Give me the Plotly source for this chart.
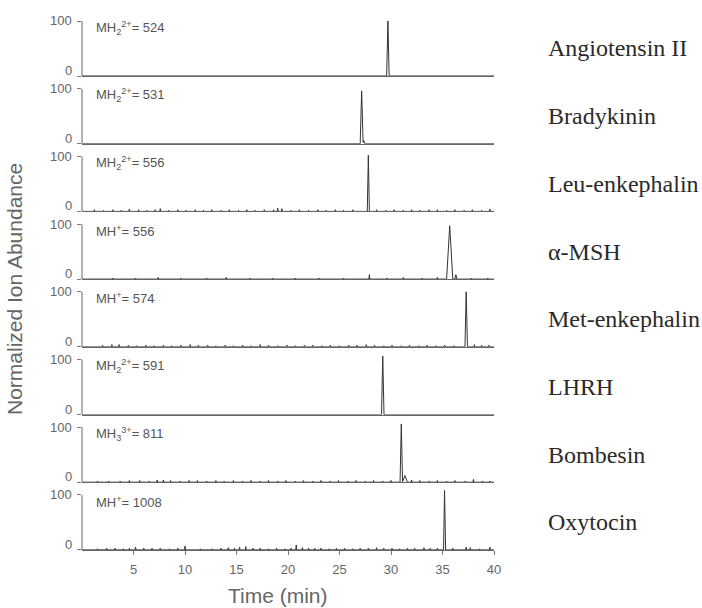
import plotly.graph_objects as go

# ---------------- data ----------------
peptides = ["Angiotensin II", "Bradykinin", "Leu-enkephalin", "α-MSH",
            "Met-enkephalin", "LHRH", "Bombesin", "Oxytocin"]
ion_labels = ["MH<sub>2</sub><sup>2+</sup>= 524",
              "MH<sub>2</sub><sup>2+</sup>= 531",
              "MH<sub>2</sub><sup>2+</sup>= 556",
              "MH<sup>+</sup>= 556",
              "MH<sup>+</sup>= 574",
              "MH<sub>2</sub><sup>2+</sup>= 591",
              "MH<sub>3</sub><sup>3+</sup>= 811",
              "MH<sup>+</sup>= 1008"]
x_tick_vals = [5, 10, 15, 20, 25, 30, 35, 40]
y_tick_vals = [0, 100]

# peaks: retention time (min), normalized height (%), half-width (min)
angio_t = [29.7]
angio_h = [100]
angio_w = [0.12]

brady_t = [27.15, 27.35]
brady_h = [96, 6]
brady_w = [0.14, 0.1]

leu_t = [1.2, 2.1, 3.0, 3.8, 4.6, 5.5, 6.3, 7.1, 7.6, 8.4, 9.3, 10.1, 11.0, 11.8,
         12.6, 13.5, 14.3, 15.2, 16.0, 16.8, 17.7, 18.6, 19.0, 19.4, 20.3, 21.1,
         22.0, 22.9, 23.7, 24.6, 25.4, 26.3, 27.8, 28.6, 29.5, 30.3, 31.2, 32.0,
         32.8, 33.7, 34.5, 35.4, 36.2, 37.1, 37.9, 38.8, 39.6]
leu_h = [3, 2, 3, 2, 4, 3, 2, 3, 5, 2, 3, 2, 3, 2,
         3, 2, 3, 2, 3, 2, 3, 3, 6, 5, 2, 3,
         2, 3, 2, 3, 2, 3, 102, 3, 2, 3, 2, 3,
         2, 3, 3, 2, 3, 2, 3, 2, 4]
leu_w = [0.05] * 32 + [0.1] + [0.05] * 14

msh_t = [3.0, 5.2, 7.4, 9.6, 12.1, 14.0, 16.3, 18.5, 20.7, 23.0, 25.4, 27.9,
         29.6, 31.2, 33.0, 34.5, 35.7, 36.3, 37.8, 39.4]
msh_h = [2, 2, 3, 2, 2, 3, 2, 2, 2, 2, 2, 8,
         2, 3, 2, 3, 97, 8, 2, 2]
msh_w = [0.05] * 16 + [0.3, 0.1, 0.05, 0.05]

met_t = [2.0, 2.9, 3.6, 4.5, 5.3, 6.2, 7.0, 7.9, 8.7, 9.6, 10.5, 11.3, 12.2,
         13.0, 13.9, 14.7, 15.6, 16.4, 17.3, 18.1, 19.0, 19.9, 20.7, 21.6,
         22.4, 23.3, 24.1, 25.0, 25.9, 26.7, 27.6, 28.4, 29.3, 30.1, 31.0,
         31.8, 32.7, 33.5, 34.4, 35.2, 36.1, 37.3, 38.1, 38.8, 39.5]
met_h = [3, 4, 4, 3, 2, 3, 2, 3, 2, 3, 4, 3, 3,
         2, 3, 2, 3, 2, 4, 3, 2, 3, 2, 3,
         3, 2, 3, 2, 3, 3, 4, 3, 2, 3, 2,
         3, 2, 3, 2, 3, 2, 100, 4, 3, 3]
met_w = [0.05] * 41 + [0.12] + [0.05] * 3

lhrh_t = [29.2]
lhrh_h = [106]
lhrh_w = [0.12]

bomb_t = [1.5, 2.6, 3.7, 4.6, 5.6, 6.5, 7.3, 7.9, 8.6, 9.5, 10.4, 11.2, 12.1,
          13.0, 13.8, 14.7, 15.6, 16.4, 17.3, 18.1, 19.0, 19.8, 20.7, 21.5,
          22.4, 23.2, 24.1, 24.9, 25.8, 26.6, 27.5, 28.3, 29.2, 30.0, 31.0,
          31.35, 32.0, 32.8, 33.7, 34.5, 35.4, 36.2, 37.2, 38.0, 38.9, 39.6]
bomb_h = [2, 2, 2, 3, 3, 2, 4, 4, 3, 2, 3, 3, 2,
          3, 2, 3, 2, 3, 2, 3, 2, 3, 2, 3,
          2, 3, 2, 3, 2, 3, 2, 3, 2, 3, 106,
          12, 4, 3, 2, 3, 2, 3, 2, 5, 2, 2]
bomb_w = [0.05] * 34 + [0.12, 0.25] + [0.05] * 10

oxy_t = [1.5, 2.4, 3.2, 4.0, 4.6, 5.2, 6.0, 6.8, 7.6, 8.5, 9.3, 10.0, 11.5,
         12.6, 13.5, 14.2, 14.8, 15.3, 15.9, 16.6, 17.3, 18.1, 18.9, 19.7,
         20.3, 20.8, 21.4, 22.0, 22.6, 23.2, 24.0, 24.7, 25.5, 26.3, 27.0,
         27.8, 28.6, 29.3, 30.1, 30.8, 31.6, 32.3, 33.2, 33.8, 34.5, 35.2,
         36.0, 37.3, 37.7, 38.6, 39.6]
oxy_h = [2, 3, 3, 2, 3, 5, 3, 3, 3, 2, 3, 7, 2,
         2, 3, 4, 3, 5, 6, 3, 3, 2, 3, 2,
         3, 9, 4, 3, 3, 3, 2, 3, 3, 2, 3,
         3, 4, 3, 3, 2, 3, 3, 4, 3, 3, 108,
         3, 5, 4, 2, 5]
oxy_w = [0.05] * 45 + [0.1] + [0.05] * 5

series_t = [angio_t, brady_t, leu_t, msh_t, met_t, lhrh_t, bomb_t, oxy_t]
series_h = [angio_h, brady_h, leu_h, msh_h, met_h, lhrh_h, bomb_h, oxy_h]
series_w = [angio_w, brady_w, leu_w, msh_w, met_w, lhrh_w, bomb_w, oxy_w]

T_START, T_END = 0.0, 40.0


def chromatogram(ts, hs, ws):
    """Build a stick-chromatogram polyline (max of triangular peaks)."""
    bps = {T_START, T_END}
    for c, w in zip(ts, ws):
        bps.update([c - w, c, c + w])
    xs = sorted(b for b in bps if T_START <= b <= T_END)
    ys = []
    for x in xs:
        v = 0.0
        for c, h, w in zip(ts, hs, ws):
            d = abs(x - c)
            if d < w:
                v = max(v, h * (1 - d / w))
        ys.append(v)
    return xs, ys


def ax_id(letter, n):
    return letter if n == 1 else f"{letter}{n}"


# ---------------- layout geometry ----------------
W, H = 702, 608
M_L, M_R, M_T, M_B = 82, 208, 12, 57
plot_h = H - M_T - M_B
zero_px = [76 + 67.7 * i for i in range(8)]   # pixel row of each baseline
unit_px = 0.55                               # pixels per % abundance
y_top = 112

SANS = "Liberation Sans, Arial, sans-serif"
SERIF = "Liberation Serif, Times New Roman, serif"

fig = go.Figure()
layout = dict(
    width=W, height=H,
    margin=dict(l=M_L, r=M_R, t=M_T, b=M_B, pad=0),
    paper_bgcolor="white", plot_bgcolor="white",
    showlegend=False,
    font=dict(family=SANS, size=13, color="#555"),
)
shapes, annotations = [], []

for i in range(8):
    n = i + 1
    xa, ya = ax_id("x", n), ax_id("y", n)
    xs, ys = chromatogram(series_t[i], series_h[i], series_w[i])
    fig.add_trace(go.Scatter(x=xs, y=ys, mode="lines",
                             line=dict(color="#333", width=1),
                             xaxis=xa, yaxis=ya, hoverinfo="skip"))
    bottom = (H - M_B - zero_px[i]) / plot_h
    top = min(1.0, bottom + y_top * unit_px / plot_h)
    last = (i == 7)
    xkey = "xaxis" if n == 1 else f"xaxis{n}"
    ykey = "yaxis" if n == 1 else f"yaxis{n}"
    layout[xkey] = dict(
        domain=[0, 1], range=[T_START, T_END], anchor=ya,
        showline=True, linecolor="#666", linewidth=1,
        showgrid=False, zeroline=False,
        tickvals=x_tick_vals if last else [],
        ticks="outside" if last else "", ticklen=4, tickcolor="#777",
        showticklabels=last, ticklabelstandoff=3,
        tickfont=dict(size=13, color="#666"),
    )
    if n > 1:
        layout[xkey]["matches"] = "x"
    layout[ykey] = dict(
        domain=[bottom, top], range=[0, y_top], anchor=xa,
        showline=False, showgrid=False, zeroline=False,
        tickvals=y_tick_vals, showticklabels=False,
        ticks="outside", ticklen=4, tickcolor="#777",
    )
    shapes.append(dict(type="line", xref=f"{xa} domain", yref=ya,
                       x0=0, x1=0, y0=0, y1=100,
                       line=dict(color="#666", width=1)))
    # y tick labels (the "0" label sits slightly above its tick, as in the original)
    for v, ypos in zip(y_tick_vals, [10, 100]):
        annotations.append(dict(text=str(v), xref=f"{xa} domain", yref=ya,
                                x=0, y=ypos, xanchor="right", yanchor="middle",
                                xshift=-8, showarrow=False,
                                font=dict(size=13, color="#666", family=SANS)))
    annotations.append(dict(text=ion_labels[i], xref=f"{xa} domain", yref=ya,
                            x=0.03, y=88, xanchor="left", yanchor="middle",
                            showarrow=False,
                            font=dict(size=13, color="#555", family=SANS)))
    annotations.append(dict(text=peptides[i], xref="paper", yref=ya,
                            x=(546 - M_L) / (W - M_L - M_R), y=50,
                            xanchor="left", yanchor="middle", showarrow=False,
                            font=dict(size=24, color="#2a2a2a", family=SERIF)))

annotations.append(dict(text="Normalized Ion Abundance", textangle=-90,
                        xref="paper", yref="paper",
                        x=(14 - M_L) / (W - M_L - M_R), y=(H - M_B - 289) / plot_h,
                        xanchor="center", yanchor="middle", showarrow=False,
                        font=dict(size=21, color="#666", family=SANS)))
annotations.append(dict(text="Time (min)", xref="paper", yref="paper",
                        x=(278 - M_L) / (W - M_L - M_R), y=(H - M_B - 595) / plot_h,
                        xanchor="center", yanchor="middle", showarrow=False,
                        font=dict(size=21, color="#666", family=SANS)))

layout["shapes"] = shapes
layout["annotations"] = annotations
fig.update_layout(**layout)
fig.write_html("out.html")
